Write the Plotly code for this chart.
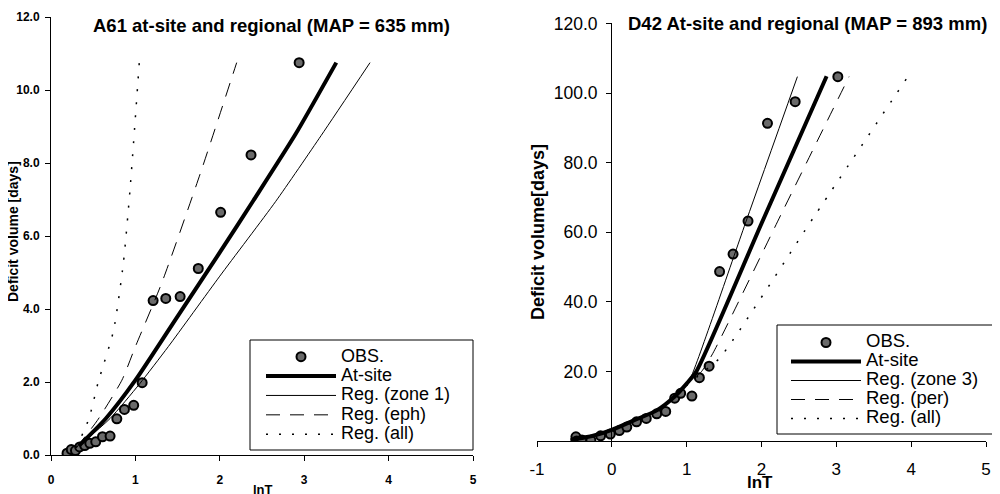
import plotly.graph_objects as go

FONT = "Liberation Sans, Arial, sans-serif"

# ---- left panel: A61 ----
a61_obs_x = [0.19, 0.24, 0.29, 0.34, 0.40, 0.46, 0.53, 0.61, 0.70, 0.78, 0.87, 0.98,
             1.08, 1.21, 1.36, 1.53, 1.745, 2.01, 2.37, 2.94]
a61_obs_y = [0.05, 0.15, 0.12, 0.22, 0.26, 0.32, 0.36, 0.50, 0.52, 0.99, 1.25, 1.36,
             1.98, 4.23, 4.29, 4.34, 5.11, 6.65, 8.22, 10.75]

a61_site_x = [0.33, 0.65, 1.0, 1.5, 2.0, 2.4, 2.9, 3.38]
a61_site_y = [0.25, 1.0, 2.05, 3.8, 5.55, 6.98, 8.8, 10.75]

a61_zone1_x = [0.33, 0.7, 1.05, 1.39, 2.0, 2.66, 3.2, 3.78]
a61_zone1_y = [0.25, 1.0, 1.95, 2.97, 4.9, 6.94, 8.75, 10.75]

a61_eph_x = [0.3, 0.55, 0.84, 1.0, 1.31, 1.77, 2.2]
a61_eph_y = [0.2, 0.95, 2.05, 2.97, 4.70, 7.72, 10.75]

a61_all_x = [0.3, 0.45, 0.56, 0.74, 0.857, 0.936, 1.046]
a61_all_y = [0.2, 1.0, 2.0, 3.4, 5.25, 7.26, 10.75]

# ---- right panel: D42 ----
d42_obs_x = [-0.48, -0.47, -0.40, -0.28, -0.15, -0.02, 0.10, 0.20, 0.33, 0.46, 0.60,
             0.72, 0.84, 0.92, 1.07, 1.17, 1.30, 1.44, 1.62, 1.82, 2.08, 2.45, 3.02]
d42_obs_y = [1.2, 0.0, 0.3, 0.2, 1.5, 2.0, 3.0, 4.0, 5.5, 6.5, 7.8,
             8.5, 12.3, 13.7, 12.9, 18.2, 21.5, 48.7, 53.7, 63.2, 91.3, 97.5, 104.7]

d42_site_x = [-0.55, -0.25, 0.0, 0.28, 0.6, 0.84, 1.0, 1.13, 2.0, 2.87]
d42_site_y = [0.3, 1.5, 3.2, 5.8, 8.8, 12.8, 16.5, 20.0, 62.5, 104.8]

d42_zone3_x = [-0.55, -0.25, 0.0, 0.28, 0.6, 0.84, 1.0, 1.06, 1.8, 2.48]
d42_zone3_y = [0.3, 1.5, 3.2, 5.8, 8.8, 12.8, 16.5, 18.5, 63.5, 104.7]

d42_per_x = [-0.55, -0.25, 0.0, 0.28, 0.6, 0.84, 1.0, 1.2, 1.35, 2.3, 3.17]
d42_per_y = [0.3, 1.5, 3.2, 5.8, 8.8, 12.8, 16.0, 20.0, 25.2, 66.8, 104.7]

d42_all_x = [-0.55, -0.25, 0.0, 0.28, 0.6, 0.84, 1.0, 1.2, 1.44, 2.7, 3.95]
d42_all_y = [0.3, 1.5, 3.2, 5.8, 8.8, 12.8, 16.0, 19.5, 23.8, 64.4, 104.5]

right_xticks = [-1, 0, 1, 2, 3, 4, 5]

# page body has an 8px margin, so the figure is drawn 8px in from the window corner
OFF = 8
W, H = 1000 - OFF, 494 - OFF


def px(x):
    return (x - OFF) / W


def py(y):
    return 1 - (y - OFF) / H


fig = go.Figure()

obs_marker = dict(size=9, color="#6a6a6a", line=dict(color="black", width=2))


def lab(name, size):
    return f'<span style="font-size:{size}px">{name}</span>'


def add_panel(xa, ya, leg, fs, obs, site, reg1, reg2, reg3, names):
    fig.add_trace(go.Scatter(x=obs[0], y=obs[1], mode="markers", name=lab("OBS.", fs),
                             marker=obs_marker, xaxis=xa, yaxis=ya, legend=leg))
    fig.add_trace(go.Scatter(x=site[0], y=site[1], mode="lines", name=lab("At-site", fs),
                             line=dict(color="black", width=4, shape="spline", smoothing=0.6),
                             xaxis=xa, yaxis=ya, legend=leg))
    fig.add_trace(go.Scatter(x=reg1[0], y=reg1[1], mode="lines", name=lab(names[0], fs),
                             line=dict(color="black", width=1, shape="spline", smoothing=0.6),
                             xaxis=xa, yaxis=ya, legend=leg))
    fig.add_trace(go.Scatter(x=reg2[0], y=reg2[1], mode="lines", name=lab(names[1], fs),
                             line=dict(color="black", width=1, dash="14px,10px",
                                       shape="spline", smoothing=0.6),
                             xaxis=xa, yaxis=ya, legend=leg))
    fig.add_trace(go.Scatter(x=reg3[0], y=reg3[1], mode="lines", name=lab(names[2], fs),
                             line=dict(color="black", width=1.5, dash="2px,11px",
                                       shape="spline", smoothing=0.6),
                             xaxis=xa, yaxis=ya, legend=leg))


add_panel("x", "y", "legend", 18,
          (a61_obs_x, a61_obs_y), (a61_site_x, a61_site_y), (a61_zone1_x, a61_zone1_y),
          (a61_eph_x, a61_eph_y), (a61_all_x, a61_all_y),
          ["Reg. (zone 1)", "Reg. (eph)", "Reg. (all)"])
add_panel("x2", "y2", "legend2", 18.5,
          (d42_obs_x, d42_obs_y), (d42_site_x, d42_site_y), (d42_zone3_x, d42_zone3_y),
          (d42_per_x, d42_per_y), (d42_all_x, d42_all_y),
          ["Reg. (zone 3)", "Reg. (per)", "Reg. (all)"])

axis_common = dict(showline=True, linecolor="black", linewidth=1, showgrid=False,
                   zeroline=False, ticks="outside", ticklen=5, tickcolor="black",
                   automargin=False)

legend_common = dict(borderwidth=0, bgcolor="rgba(0,0,0,0)",
                     itemwidth=70, tracegroupgap=0, xanchor="left", yanchor="top",
                     xref="container", yref="container")


def note(text, x, y, size, angle=0):
    return dict(text=text, x=px(x), y=py(y), xref="paper", yref="paper",
                xanchor="center", yanchor="middle", showarrow=False,
                textangle=angle, font=dict(size=size))


def frame(x0, y0, x1, y1):
    return dict(type="rect", xref="paper", yref="paper", x0=px(x0), x1=px(x1),
                y0=py(y1), y1=py(y0), line=dict(color="black", width=1),
                fillcolor="white", layer="above")


fig.update_layout(
    width=W, height=H,
    margin=dict(l=0, r=0, t=0, b=0, autoexpand=False),
    paper_bgcolor="white", plot_bgcolor="white",
    font=dict(family=FONT, color="black"),
    xaxis=dict(axis_common, domain=[px(51), px(473)], range=[0, 5], anchor="y",
               tickvals=[0, 1, 2, 3, 4, 5], ticklabelstandoff=9,
               tickfont=dict(size=12, family=FONT, weight="bold")),
    yaxis=dict(axis_common, domain=[py(455), py(17)], range=[0, 12], anchor="x",
               tickvals=[0, 2, 4, 6, 8, 10, 12], tickformat=".1f", ticklabelstandoff=3,
               tickfont=dict(size=12, family=FONT, weight="bold")),
    xaxis2=dict(axis_common, domain=[px(537), px(986)], range=[-1, 5], anchor="y2",
                tickvals=right_xticks, ticktext=[str(v) for v in right_xticks],
                ticklabelstandoff=8, tickfont=dict(size=17, family=FONT)),
    yaxis2=dict(axis_common, domain=[py(441), py(23.4)], range=[0, 120], anchor="free",
                position=px(611), tickvals=[20, 40, 60, 80, 100, 120], tickformat=".1f",
                ticklabelstandoff=5, tickfont=dict(size=17.5, family=FONT)),
    legend=dict(legend_common, x=px(261), y=py(342),
                font=dict(family=FONT, size=12.6, color="black")),
    legend2=dict(legend_common, x=px(786), y=py(328),
                 font=dict(family=FONT, size=12, color="black")),
    shapes=[frame(250, 340, 473, 450), frame(777, 325, 998, 434)],
    annotations=[
        note("<b>A61 at-site and regional (MAP = 635 mm)</b>", 271, 25, 18.5),
        note("<b>D42 At-site and regional (MAP = 893 mm)</b>", 807, 23, 18.5),
        note("<b>Deficit volume [days]</b>", 13, 232, 14, -90),
        note("<b>Deficit volume[days]</b>", 538, 232, 18, -90),
        note("<b>lnT</b>", 263, 489, 13),
        note("<b>lnT</b>", 760, 482, 17),
    ],
)

fig.write_html("out.html")
